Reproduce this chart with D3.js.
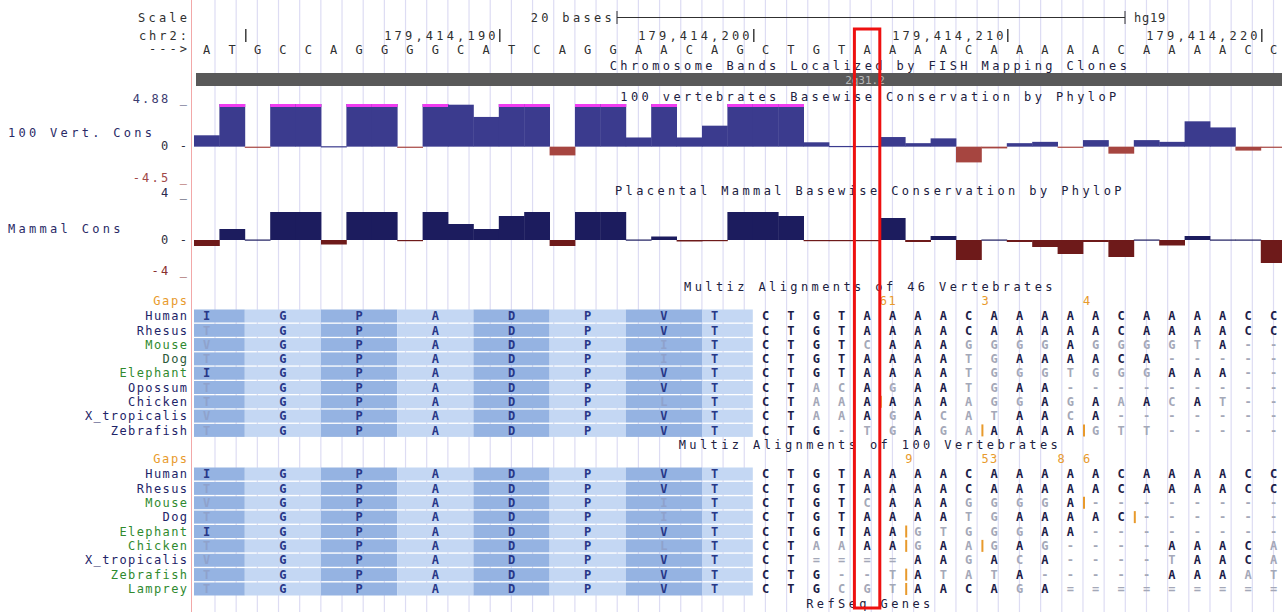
<!DOCTYPE html>
<html>
<head>
<meta charset="utf-8">
<script src="https://cdn.jsdelivr.net/npm/d3@7"></script>
<style>
body { margin: 0; background: #fff; }
text { font-family: "DejaVu Sans Mono", monospace; font-size: 12px; }
text.aln { font-weight: bold; }
</style>
</head>
<body>
<script>
// ---- data ----
const startPos = 179414178
const refSeq = 'ATGCCAGGGGCATCAGGAACAGCTGTAAAACAAAAACAAAACC'
const tickPositions = [179414180, 179414190, 179414200, 179414210, 179414220]
const tickLabels = ['', '179,414,190', '179,414,200', '179,414,210', '179,414,220']
const scaleBases = 20

const vertCons = [1.3, 5.2, -0.1, 5.2, 5.2, 0.05, 5.2, 5.2, -0.1, 5.2, 4.8, 3.4, 5.2, 5.2, -1.0,
    5.2, 5.2, 1.05, 5.2, 1.05, 2.4, 5.2, 5.2, 5.2, 0.5, 0.08, 0.08, 1.1, 0.4, 0.95,
    -1.8, -0.2, 0.4, 0.55, -0.1, 0.75, -0.8, 0.75, 0.55, 2.9, 2.2, -0.45, -0.1]
const mammalCons = [-0.6, 1.1, 0.05, 2.8, 2.8, -0.45, 2.8, 2.8, -0.05, 2.8, 1.6, 1.1, 2.4, 2.8, -0.6,
    2.8, 2.8, 0.05, 0.35, -0.15, -0.05, 2.8, 2.8, 2.4, -0.05, -0.05, -0.05, 2.2, -0.2, 0.4,
    -2.0, 0.05, -0.2, -0.7, -1.4, -0.2, -1.7, 0.05, -0.55, 0.4, 0.05, 0.05, -2.3]
const vertLimits = [-4.5, 4.88]
const mammalLimits = [-4, 4]

// codon frames of the exon (base indexes) and where each amino acid letter sits
const codonStarts = [0, 2, 5, 8, 11, 14, 17, 20, 22]
const aaBase = [0, 3, 6, 9, 12, 15, 18, 20]
const ntStart = 22

const species46 = ['Human', 'Rhesus', 'Mouse', 'Dog', 'Elephant', 'Opossum', 'Chicken', 'X_tropicalis', 'Zebrafish']
const clade46 = ['navy', 'navy', 'green', 'dkgreen', 'green', 'navy', 'navy', 'navy', 'navy']
const aa46 = ['IGPADPVT', 'TGPADPVT', 'VGPADPIT', 'TGPADPIT', 'IGPADPVT', 'TGPADPVT', 'TGPADPLT', 'VGPADPVT', 'TGPADPVT']
const nt46 = [
    'CTGTAAAACAAAAACAAAACC',
    'CTGTAAAACAAAAACAAAACC',
    'CTGTCAAAGGGGAGGGGTA--',
    'CTGTAAAATGAAAACA-----',
    'CTGTAAAATGGGTGGGAAA--',
    'CTACAGAATGAA---------',
    'CTAAA|AAAAGGAGAAACAT--',
    'CTAAAGACATAACA-------',
    'CTG-TGAGA|AAAA|GTT-----'
]
const gaps46 = [[27, '61'], [31, '3'], [35, '4']]

const species100 = ['Human', 'Rhesus', 'Mouse', 'Dog', 'Elephant', 'Chicken', 'X_tropicalis', 'Zebrafish', 'Lamprey']
const clade100 = ['navy', 'navy', 'green', 'navy', 'green', 'green', 'navy', 'green', 'green']
const aa100 = ['IGPADPVT', 'TGPADPVT', 'VGPADPIT', 'TGPADPIT', 'IGPADPVT', 'TGPADPLT', 'VGPADPVT', 'TGPADPVT', 'TGPADPVT']
const nt100 = [
    'CTGTAAAACAAAAACAAAACC',
    'CTGTAAAACAAAAACAAAACC',
    'CTGTCAAAGGGGA|--------',
    'CTGTAAAATGAAAAC|------',
    'CTGTAA|GTGGGAA--------',
    'CTAAAA|GAA|GAG----AAACA',
    'CT====AAGACA----TAACA',
    'CTG--T|ATATA-----AAAAT',
    'CTGCGT|AACAGA========='
]
const gaps100 = [[28, '9'], [31, '53'], [34, '8'], [35, '6']]

// ---- layout ----
const width = 1282
const height = 612
const labelRight = 187
const labelLeft = 8
const titleX = 870
const baseWidth = 25.4
const dataLeft = 194
const nBases = refSeq.length

const cladeColor = {navy: '#1e2468', green: '#2f8a2f', dkgreen: '#2d5a3a'}
const darkNt = '#1c2048'
const lightNt = '#a4a8b8'
const darkAa = '#283888'
const lightAa = '#8fa2cc'
const orange = '#e89a2c'

const x = d3.scaleLinear()
    .domain([startPos, startPos + nBases])
    .range([dataLeft, dataLeft + nBases * baseWidth])
const baseLeft = i => x(startPos + i)
const baseMid = i => x(startPos + i + 0.5)

const svg = d3.select('body')
    .append('svg')
    .attr('width', width)
    .attr('height', height)

// guide lines
const guides = d3.range(215, width, 21.17)
svg.selectAll('line.guide')
    .data(guides)
    .enter()
    .append('line')
    .attr('x1', d => d).attr('x2', d => d)
    .attr('y1', 0).attr('y2', height)
    .attr('stroke', '#dddcf3')
    .attr('stroke-width', 1.2)

svg.append('line')
    .attr('x1', 191.5).attr('x2', 191.5)
    .attr('y1', 0).attr('y2', height)
    .attr('stroke', '#f2a8a8')

function leftLabel(txt, y, color, spacing) {
    svg.append('text')
        .attr('x', labelRight + spacing)
        .attr('y', y)
        .attr('text-anchor', 'end')
        .attr('fill', color)
        .style('letter-spacing', spacing + 'px')
        .text(txt)
}

function trackLabel(txt, y) {
    svg.append('text')
        .attr('x', labelLeft)
        .attr('y', y)
        .attr('fill', '#2a2a66')
        .style('letter-spacing', '3.3px')
        .text(txt)
}

function title(txt, y) {
    svg.append('text')
        .attr('x', titleX)
        .attr('y', y)
        .attr('text-anchor', 'middle')
        .attr('fill', '#202040')
        .style('letter-spacing', '3.4px')
        .text(txt)
}

// ---- ruler ----
leftLabel('Scale', 22, '#303030', 3.2)
leftLabel('chr2:', 40, '#303030', 3)
leftLabel('--->', 53, '#303030', 3)

const barLeft = 617
const barRight = barLeft + x(startPos + scaleBases) - x(startPos)
svg.append('text')
    .attr('x', barLeft - 2).attr('y', 22)
    .attr('text-anchor', 'end')
    .attr('fill', '#303030')
    .style('letter-spacing', '3.3px')
    .text(scaleBases + ' bases')
svg.append('path')
    .attr('d', `M${barLeft},11V24M${barLeft},17.5H${barRight}M${barRight},11V24`)
    .attr('stroke', '#303030')
    .attr('fill', 'none')
svg.append('text')
    .attr('x', barRight + 9).attr('y', 22)
    .attr('fill', '#303030')
    .style('letter-spacing', '0.8px')
    .text('hg19')

tickPositions.forEach((p, i) => {
    const tx = x(p) + 1
    svg.append('line')
        .attr('x1', tx).attr('x2', tx)
        .attr('y1', 29).attr('y2', 42)
        .attr('stroke', '#303030')
        .attr('stroke-width', 1.4)
    if (tickLabels[i])
        svg.append('text')
            .attr('x', tx - 1).attr('y', 40)
            .attr('text-anchor', 'end')
            .attr('fill', '#303030')
            .style('letter-spacing', '3.2px')
            .text(tickLabels[i])
})

svg.selectAll('text.ref')
    .data(refSeq.split(''))
    .enter()
    .append('text')
    .attr('x', (d, i) => baseMid(i))
    .attr('y', 54)
    .attr('text-anchor', 'middle')
    .attr('fill', '#303030')
    .text(d => d)

// ---- chromosome band ----
title('Chromosome Bands Localized by FISH Mapping Clones', 70)
svg.append('rect')
    .attr('x', 196).attr('y', 73)
    .attr('width', width - 196).attr('height', 13)
    .attr('fill', '#595959')
svg.append('text')
    .attr('x', 865).attr('y', 84)
    .attr('text-anchor', 'middle')
    .attr('fill', '#b8b8b8')
    .style('font-size', '11px')
    .text('2q31.2')

// ---- conservation wiggles ----
function wiggle(values, limits, range, posColor, negColor) {
    const y = d3.scaleLinear().domain(limits).range(range)
    const g = svg.append('g')
    values.forEach((v, i) => {
        const c = Math.max(limits[0], Math.min(limits[1], v))
        const y0 = y(0)
        const y1 = y(c)
        const top = Math.min(y0, y1)
        const h = Math.max(1.2, Math.abs(y1 - y0))
        g.append('rect')
            .attr('x', baseLeft(i))
            .attr('y', v >= 0 ? top : y0)
            .attr('width', baseWidth + 0.4)
            .attr('height', h)
            .attr('fill', v >= 0 ? posColor : negColor)
        if (v > limits[1])
            g.append('rect')
                .attr('x', baseLeft(i))
                .attr('y', y(limits[1]))
                .attr('width', baseWidth + 0.4)
                .attr('height', 3)
                .attr('fill', '#f03cf0')
    })
    return y
}

title('100 vertebrates Basewise Conservation by PhyloP', 101)
wiggle(vertCons, vertLimits, [186, 104], '#3b3b8e', '#a64540')
leftLabel('4.88 _', 103, '#3c3c70', 2.2)
trackLabel('100 Vert. Cons', 137)
leftLabel('0 -', 150, '#303040', 2.2)
leftLabel('-4.5 _', 182, '#a04848', 2.2)

title('Placental Mammal Basewise Conservation by PhyloP', 195)
wiggle(mammalCons, mammalLimits, [280, 200], '#1c1c5e', '#6e1a1a')
leftLabel('4 _', 197, '#2a2a50', 2.2)
trackLabel('Mammal Cons', 233)
leftLabel('0 -', 244, '#303040', 2.2)
leftLabel('-4 _', 275, '#8a3030', 2.2)

// ---- multiz alignments ----
function parseRow(s) {
    const bases = []
    let ins = false
    s.split('').forEach(c => {
        if (c === '|') { ins = true; return }
        bases.push({c, ins})
        ins = false
    })
    return bases
}

function alignment(titleText, titleY, gapsY, species, clades, aas, nts, gaps, rowTop, rowStep) {
    title(titleText, titleY)
    leftLabel('Gaps', gapsY + 4, orange, 1.6)
    gaps.forEach(([b, label]) => {
        svg.append('text')
            .attr('x', baseLeft(b)).attr('y', gapsY + 4)
            .attr('fill', orange)
            .style('letter-spacing', '1.5px')
            .text(label)
    })

    const y = d3.scalePoint()
        .domain(species)
        .range([rowTop, rowTop + (species.length - 1) * rowStep])
    const human = parseRow(nts[0])
    const g = svg.append('g')

    species.forEach((sp, r) => {
        const cy = y(sp)
        leftLabel(sp, cy + 4.2, cladeColor[clades[r]], 1.4)

        for (let k = 0; k < codonStarts.length - 1; k++) {
            g.append('rect')
                .attr('x', baseLeft(codonStarts[k]))
                .attr('y', cy - 6.5)
                .attr('width', baseLeft(codonStarts[k + 1]) - baseLeft(codonStarts[k]))
                .attr('height', 13)
                .attr('fill', k % 2 === 0 ? '#95b3e2' : '#c4d7f3')
        }
        aas[r].split('').forEach((a, k) => {
            g.append('text')
                .attr('class', 'aln')
                .attr('x', baseMid(aaBase[k]))
                .attr('y', cy + 4.2)
                .attr('text-anchor', 'middle')
                .attr('fill', a === aas[0][k] ? darkAa : lightAa)
                .text(a)
        })

        parseRow(nts[r]).forEach((b, j) => {
            const i = ntStart + j
            const match = b.c === human[j].c && b.c !== '-' && b.c !== '='
            g.append('text')
                .attr('class', 'aln')
                .attr('x', baseMid(i))
                .attr('y', cy + 4.2)
                .attr('text-anchor', 'middle')
                .attr('fill', match ? darkNt : lightNt)
                .text(b.c)
            if (b.ins)
                g.append('line')
                    .attr('x1', baseLeft(i) + 1).attr('x2', baseLeft(i) + 1)
                    .attr('y1', cy - 6).attr('y2', cy + 6)
                    .attr('stroke', orange)
                    .attr('stroke-width', 2)
        })
    })
}

alignment('Multiz Alignments of 46 Vertebrates', 291, 301, species46, clade46, aa46, nt46, gaps46, 316, 14.3)
alignment('Multiz Alignments of 100 Vertebrates', 449, 459, species100, clade100, aa100, nt100, gaps100, 474, 14.375)

title('RefSeq Genes', 608)

// highlight box
svg.append('rect')
    .attr('x', baseLeft(26))
    .attr('y', 29)
    .attr('width', baseWidth)
    .attr('height', 579)
    .attr('fill', 'none')
    .attr('stroke', '#ee1010')
    .attr('stroke-width', 3)
</script>
</body>
</html>
